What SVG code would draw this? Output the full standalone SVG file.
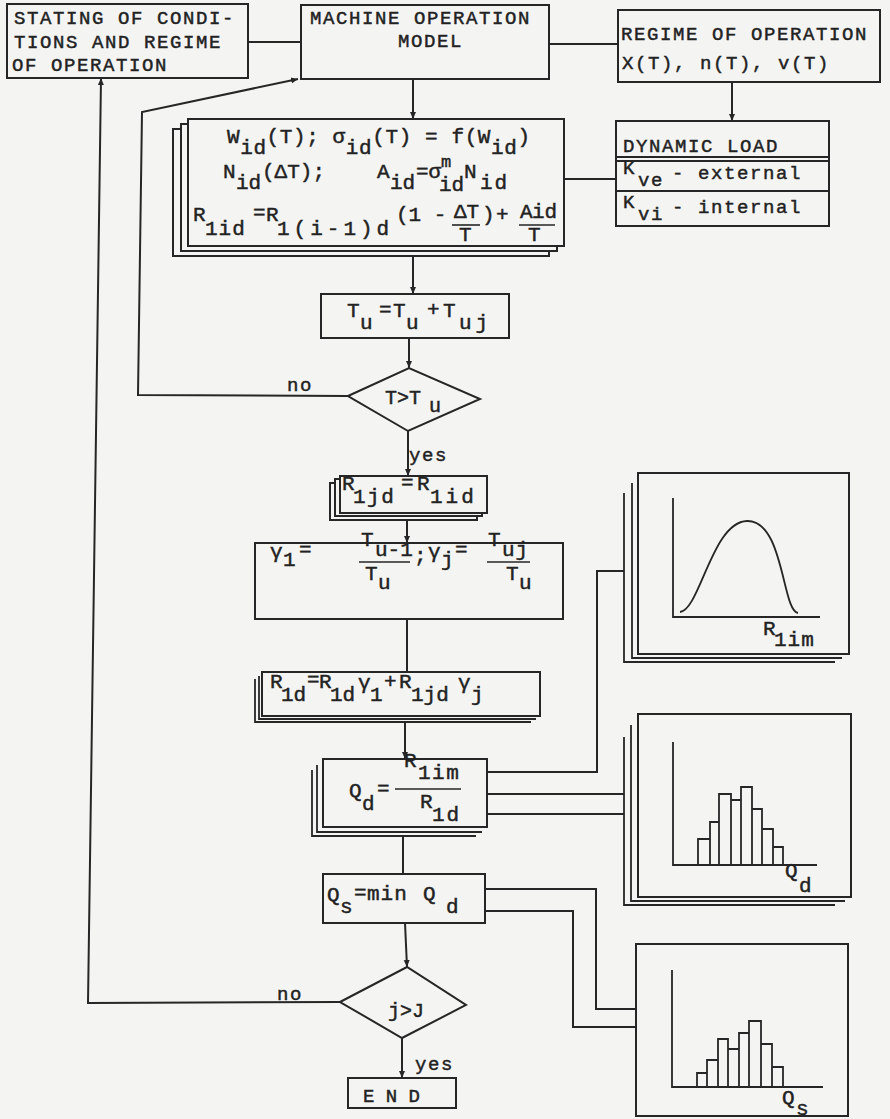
<svg xmlns="http://www.w3.org/2000/svg" width="890" height="1119" viewBox="0 0 890 1119">
<style>
.bg{fill:#f4f4f2}
.box{fill:#f4f4f2;stroke:#262626;stroke-width:2}
.sh{fill:none;stroke:#262626;stroke-width:1.8}
.ln{fill:none;stroke:#262626;stroke-width:2}
.ax{fill:none;stroke:#262626;stroke-width:1.8}
.t{font-family:"Liberation Mono","DejaVu Sans Mono",monospace;font-size:19px;letter-spacing:1.6px;fill:#222;stroke:#222;stroke-width:0.45px}
.m{font-family:"Liberation Mono","DejaVu Sans Mono",monospace;font-size:21px;fill:#222;stroke:#222;stroke-width:0.45px}
</style>
<defs>
<marker id="ah" markerUnits="userSpaceOnUse" markerWidth="8" markerHeight="8" refX="7" refY="4" orient="auto">
<path d="M0,1 L7,4 L0,7 z" fill="#262626"/>
</marker>
</defs>
<rect class="bg" x="0" y="0" width="890" height="1119"/>

<g id="connectors">
<line class="ln" x1="248" y1="42" x2="301" y2="42"/>
<line class="ln" x1="549" y1="44" x2="618" y2="44"/>
<line class="ln" x1="413" y1="78" x2="413" y2="119" marker-end="url(#ah)"/>
<line class="ln" x1="732" y1="82" x2="732" y2="121" marker-end="url(#ah)"/>
<line class="ln" x1="564" y1="179" x2="616" y2="179"/>
<line class="ln" x1="413" y1="256" x2="413" y2="294" marker-end="url(#ah)"/>
<line class="ln" x1="409" y1="338" x2="409" y2="368" marker-end="url(#ah)"/>
<line class="ln" x1="408" y1="431" x2="408" y2="476" marker-end="url(#ah)"/>
<line class="ln" x1="407" y1="520" x2="407" y2="543" marker-end="url(#ah)"/>
<line class="ln" x1="407" y1="619" x2="407" y2="672"/>
<line class="ln" x1="405" y1="722" x2="405" y2="759" marker-end="url(#ah)"/>
<line class="ln" x1="403" y1="836" x2="403" y2="874"/>
<line class="ln" x1="405" y1="923" x2="407" y2="967" marker-end="url(#ah)"/>
<line class="ln" x1="402" y1="1038" x2="402" y2="1078" marker-end="url(#ah)"/>
<path class="ln" d="M348,396 L138,395 L142,112 L298,79" marker-end="url(#ah)"/>
<path class="ln" d="M340,1002 L88,1003 L101,78" marker-end="url(#ah)"/>
<path class="ln" d="M487,772 H597 V571 H624"/>
<path class="ln" d="M487,794 H624"/>
<path class="ln" d="M487,814 H624"/>
<path class="ln" d="M485,889 H596 V1009 H636"/>
<path class="ln" d="M485,911 H573 V1027 H636"/>
<text class="t" x="287" y="391">no</text>
<text class="t" x="409" y="461">yes</text>
<text class="t" x="277" y="1000">no</text>
<text class="t" x="415" y="1070">yes</text>
</g>

<g id="n-stating">
<rect class="box" x="7" y="4" width="241" height="74"/>
<text class="t" x="14" y="24">STATING OF CONDI-</text>
<text class="t" x="14" y="48">TIONS AND REGIME</text>
<text class="t" x="12" y="71">OF OPERATION</text>
</g>

<g id="n-model">
<rect class="box" x="301" y="5" width="248" height="74"/>
<text class="t" x="310" y="24">MACHINE OPERATION</text>
<text class="t" x="398" y="47">MODEL</text>
</g>

<g id="n-regime">
<rect class="box" x="618" y="10" width="262" height="72"/>
<text class="t" x="621" y="40">REGIME OF OPERATION</text>
<text class="t" x="622" y="69">X(T), n(T), v(T)</text>
</g>

<g id="n-dynload">
<rect class="box" x="616" y="121" width="213" height="105"/>
<line class="ln" x1="616" y1="157" x2="829" y2="157"/>
<line class="ln" x1="616" y1="161" x2="829" y2="161"/>
<line class="ln" x1="616" y1="191" x2="829" y2="191"/>
<text class="t" x="623" y="152">DYNAMIC LOAD</text>
<text class="t"><tspan x="623" y="174">K</tspan><tspan x="638" y="186">ve</tspan><tspan x="672" y="179">- external</tspan></text>
<text class="t"><tspan x="623" y="208">K</tspan><tspan x="638" y="220">vi</tspan><tspan x="672" y="213">- internal</tspan></text>
</g>

<g id="n-formula">
<rect class="box" x="173" y="129" width="376" height="127"/>
<rect class="box" x="181" y="124" width="376" height="127"/>
<rect class="box" x="188" y="119" width="376" height="127"/>
<text class="m" style="letter-spacing:0.6px"><tspan x="227" y="143">W</tspan><tspan y="154">id</tspan><tspan y="143">(T); σ</tspan><tspan y="154">id</tspan><tspan y="143">(T) = f(W</tspan><tspan y="154">id</tspan><tspan y="143">)</tspan></text>
<text class="m"><tspan x="223" y="178">N</tspan><tspan x="236" y="189">id</tspan><tspan x="262" y="178">(ΔT);</tspan><tspan x="377" y="178">A</tspan><tspan x="390" y="189">id</tspan><tspan x="416" y="178">=σ</tspan><tspan x="464" y="178">N</tspan><tspan x="480" y="189" style="letter-spacing:2px">id</tspan></text>
<text class="m" x="441" y="167" style="font-size:17px">m</text>
<text class="m" x="439" y="191">id</text>
<text class="m"><tspan x="193" y="221">R</tspan><tspan x="205" y="235" style="letter-spacing:1px">1id</tspan><tspan x="253" y="219">=</tspan><tspan x="266" y="221">R</tspan><tspan x="277" y="235" style="letter-spacing:4px">1(i-1)d</tspan><tspan x="396" y="221">(1 -</tspan><tspan x="454" y="218">ΔT</tspan><tspan x="459" y="241">T</tspan><tspan x="482" y="221">)</tspan><tspan x="496" y="221">+</tspan><tspan x="520" y="218">A</tspan><tspan x="532" y="218">id</tspan><tspan x="528" y="241">T</tspan></text>
<line class="ln" x1="452" y1="225" x2="480" y2="225" style="stroke-width:1.6"/>
<line class="ln" x1="519" y1="225" x2="555" y2="225" style="stroke-width:1.6"/>
</g>

<g id="n-tu">
<rect class="box" x="321" y="294" width="188" height="44"/>
<text class="m"><tspan x="347" y="317">T</tspan><tspan x="360" y="329">u</tspan><tspan x="379" y="316">=</tspan><tspan x="393" y="317">T</tspan><tspan x="406" y="329">u</tspan><tspan x="427" y="316">+</tspan><tspan x="443" y="317">T</tspan><tspan x="459" y="329" style="letter-spacing:4px">uj</tspan></text>
</g>

<g id="n-cond1">
<polygon class="box" points="348,396 409,368 480,399 408,431"/>
<text class="m" style="font-size:20px"><tspan x="385" y="404">T&gt;T</tspan><tspan x="429" y="412">u</tspan></text>
</g>

<g id="n-r1jd">
<rect class="box" x="330" y="483" width="147" height="37"/>
<rect class="box" x="335" y="479" width="147" height="37"/>
<rect class="box" x="340" y="476" width="147" height="37"/>
<text class="m"><tspan x="342" y="490">R</tspan><tspan x="353" y="503" style="letter-spacing:1.5px">1jd</tspan><tspan x="401" y="489">=</tspan><tspan x="417" y="490">R</tspan><tspan x="430" y="503" style="letter-spacing:3px">1id</tspan></text>
</g>

<g id="n-gamma">
<rect class="box" x="255" y="543" width="308" height="76"/>
<text class="m"><tspan x="270" y="558">γ</tspan><tspan x="283" y="566">1</tspan><tspan x="299" y="556">=</tspan><tspan x="361" y="546">T</tspan><tspan x="375" y="556">u-1</tspan><tspan x="365" y="580">T</tspan><tspan x="378" y="589">u</tspan><tspan x="414" y="562">;</tspan><tspan x="428" y="558">γ</tspan><tspan x="441" y="566">j</tspan><tspan x="455" y="556">=</tspan><tspan x="488" y="546">T</tspan><tspan x="502" y="556" style="letter-spacing:1px">uj</tspan><tspan x="506" y="580">T</tspan><tspan x="519" y="589">u</tspan></text>
<line class="ln" x1="359" y1="562" x2="410" y2="562" style="stroke-width:1.6"/>
<line class="ln" x1="487" y1="562" x2="530" y2="562" style="stroke-width:1.6"/>
</g>

<g id="n-r1d">
<path class="sh" d="M255,679 V722 H531"/>
<path class="sh" d="M259,676 V719 H536"/>
<rect class="box" x="262" y="672" width="278" height="44"/>
<text class="m"><tspan x="270" y="688">R</tspan><tspan x="281" y="701">1d</tspan><tspan x="307" y="686">=</tspan><tspan x="319" y="688">R</tspan><tspan x="330" y="701">1d</tspan><tspan x="358" y="689">γ</tspan><tspan x="370" y="701">1</tspan><tspan x="384" y="688">+</tspan><tspan x="399" y="688">R</tspan><tspan x="411" y="701">1jd</tspan><tspan x="458" y="689">γ</tspan><tspan x="471" y="701">j</tspan></text>
</g>

<g id="n-qd">
<path class="sh" d="M312,770 V836 H476"/>
<path class="sh" d="M317,765 V832 H482"/>
<rect class="box" x="323" y="759" width="164" height="68"/>
<text class="m"><tspan x="349" y="797">Q</tspan><tspan x="362" y="810">d</tspan><tspan x="377" y="795">=</tspan><tspan x="404" y="767">R</tspan><tspan x="418" y="779" style="letter-spacing:1.5px">1im</tspan><tspan x="420" y="808">R</tspan><tspan x="432" y="821" style="letter-spacing:2px">1d</tspan></text>
<line class="ln" x1="395" y1="789" x2="461" y2="789" style="stroke-width:1.6"/>
</g>

<g id="n-qs">
<rect class="box" x="323" y="874" width="162" height="49"/>
<text class="m"><tspan x="327" y="901">Q</tspan><tspan x="340" y="913">s</tspan><tspan x="354" y="899">=</tspan><tspan x="367" y="900" style="letter-spacing:1px">min</tspan><tspan x="423" y="900">Q</tspan><tspan x="446" y="913">d</tspan></text>
</g>

<g id="n-cond2">
<polygon class="box" points="340,1002 407,967 466,1005 402,1038"/>
<text class="m" style="font-size:20px" x="388" y="1017">j&gt;J</text>
</g>

<g id="n-end">
<rect class="box" x="348" y="1078" width="108" height="30"/>
<text class="t" x="363" y="1102" style="letter-spacing:0">E N D</text>
</g>

<g id="n-chart-rlim">
<path class="sh" d="M624,493 V662 H835"/>
<path class="sh" d="M632,483 V658 H842"/>
<rect class="box" x="638" y="473" width="211" height="181"/>
<path class="ax" d="M673,498 V617 H820"/>
<path class="ax" d="M680,612 C700,610 712,522 747,521 C784,520 782,611 798,613"/>
<text class="m"><tspan x="763" y="635">R</tspan><tspan x="774" y="646" style="letter-spacing:1px">1im</tspan></text>
</g>

<g id="n-chart-qd">
<path class="sh" d="M624,737 V905 H835"/>
<path class="sh" d="M631,725 V901 H845"/>
<rect class="box" x="638" y="714" width="213" height="183"/>
<path class="ax" d="M673,742 V865 H817"/>
<path class="ax" d="M698,865 V839 H710 V865 M710,839 V822 H719 V865 M719,822 V794 H731 V865 M731,800 H741 M741,865 V787 H752 V865 M752,809 H762 V865 M762,829 H773 V865 M773,847 H783 V865"/>
<text class="m"><tspan x="785" y="877">Q</tspan><tspan x="799" y="892">d</tspan></text>
</g>

<g id="n-chart-qs">
<rect class="box" x="636" y="944" width="212" height="172"/>
<path class="ax" d="M672,970 V1087 H823"/>
<path class="ax" d="M697,1087 V1073 H707 V1087 M707,1073 V1060 H718 V1087 M718,1060 V1039 H728 V1087 M728,1049 H739 V1087 M739,1049 V1033 H749 V1087 M749,1033 V1021 H761 V1087 M761,1044 H772 V1087 M772,1067 H783 V1087"/>
<text class="m"><tspan x="782" y="1104">Q</tspan><tspan x="796" y="1115">s</tspan></text>
</g>
</svg>
